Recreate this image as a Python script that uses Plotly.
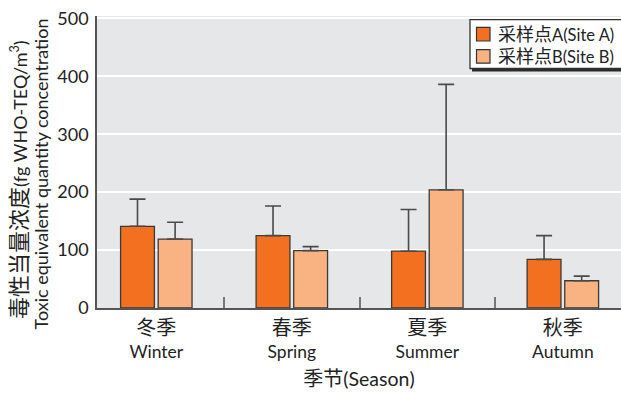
import plotly.graph_objects as go

# Seasonal toxic equivalent concentrations at two sampling sites
season_cn = ["冬季", "春季", "夏季", "秋季"]
season_en = ["Winter", "Spring", "Summer", "Autumn"]
site_a_mean = [141, 125, 98, 84]
site_a_upper = [47, 51, 72, 41]     # upper error (mean + err = top of whisker)
site_b_mean = [119, 99, 204, 47]
site_b_upper = [29, 7, 182, 8]

series_cn = ["采样点A", "采样点B"]
series_en = ["(Site A)", "(Site B)"]
colors = ["#F37021", "#F9B383"]
y_ticks = [0, 100, 200, 300, 400, 500]
y_title_cn = "毒性当量浓度"
y_title_unit = "(fg WHO-TEQ/m<sup>3</sup>)"
y_title_en = "Toxic equivalent quantity concentration"

FONT = "Lato, Noto Sans CJK SC, sans-serif"
TXT = "#222"


def cjk(s, size):
    return f"<span style='font-size:{size}px'>{s}</span>"


seasons = [f"{cjk(c, 20)}<br>{e}" for c, e in zip(season_cn, season_en)]

fig = go.Figure()
for cn, en, means, errs, col in zip(series_cn, series_en,
                                    [site_a_mean, site_b_mean],
                                    [site_a_upper, site_b_upper], colors):
    fig.add_trace(go.Bar(
        x=seasons, y=means, name=cn + en, showlegend=False,
        marker=dict(color=col, line=dict(color="#3a3a3a", width=1.3)),
        error_y=dict(type="data", array=errs, arrayminus=[0] * len(errs),
                     symmetric=False, color="#4a4a4a", thickness=1.6, width=8),
    ))

W, H = 621, 395
ml, mr, mt, mb = 97, 0, 16, 87
pw, ph = W - ml - mr, H - mt - mb


def px_x(px):
    return (px - ml) / pw


def px_y(py):
    return (H - mb - py) / ph


# Legend box drawn as layout decoration (box, drop shadow, swatches, labels)
shapes = [
    dict(type="rect", xref="paper", yref="paper", layer="above",
         x0=px_x(472), x1=px_x(640), y0=px_y(71.5), y1=px_y(22),
         fillcolor="#2a2a2a", line=dict(width=0)),
    dict(type="rect", xref="paper", yref="paper", layer="above",
         x0=px_x(470), x1=px_x(640), y0=px_y(68.5), y1=px_y(19.7),
         fillcolor="white", line=dict(color="#333", width=1.3)),
]
annotations = []
row_centers = [34.2, 56.4]
for i, (cn, en, col) in enumerate(zip(series_cn, series_en, colors)):
    yc = row_centers[i]
    shapes.append(dict(type="rect", xref="paper", yref="paper", layer="above",
                       x0=px_x(476.5), x1=px_x(490), y0=px_y(yc + 6.8), y1=px_y(yc - 6.8),
                       fillcolor=col, line=dict(color="#333", width=1.2)))
    annotations.append(dict(xref="paper", yref="paper", x=px_x(495.5), y=px_y(yc),
                            xanchor="left", yanchor="middle", showarrow=False,
                            text=cjk(cn[:3], 18) + cn[3:] + en,
                            font=dict(family=FONT, size=16.5, color=TXT)))

# Two-line rotated y-axis title
annotations.append(dict(xref="paper", yref="paper", x=px_x(18), y=px_y(180),
                        xanchor="center", yanchor="middle", showarrow=False,
                        textangle=-90, text=cjk(y_title_cn, 22) + y_title_unit,
                        font=dict(family=FONT, size=18, color=TXT)))
annotations.append(dict(xref="paper", yref="paper", x=px_x(40.5), y=px_y(174),
                        xanchor="center", yanchor="middle", showarrow=False,
                        textangle=-90, text=y_title_en,
                        font=dict(family=FONT, size=18, color=TXT)))

fig.update_layout(
    width=W, height=H,
    margin=dict(l=ml, r=mr, t=mt, b=mb, autoexpand=False),
    paper_bgcolor="white",
    plot_bgcolor="#E6E7E9",
    barmode="group",
    bargap=0.445,
    bargroupgap=0.1,
    font=dict(family=FONT, size=17, color=TXT),
    showlegend=False,
    xaxis=dict(
        type="category",
        range=[-0.4376, 3.429],
        showline=True, linecolor="#555", linewidth=1.6,
        ticks="inside", tickson="boundaries", ticklen=11,
        tickcolor="#777", tickwidth=1.5,
        showgrid=False,
        ticklabelstandoff=4,
        tickfont=dict(family=FONT, size=17.5, color=TXT),
        title=dict(text=cjk("季节", 20) + "(Season)", standoff=12,
                   font=dict(family=FONT, size=19.5, color=TXT)),
    ),
    yaxis=dict(
        range=[0, 504],
        tickvals=y_ticks,
        showline=True, linecolor="#555", linewidth=1.6,
        showgrid=True, gridcolor="white", gridwidth=1.5,
        zeroline=False,
        ticks="", ticklabelstandoff=3,
        tickfont=dict(family=FONT, size=18, color=TXT),
    ),
    shapes=shapes,
    annotations=annotations,
)

fig.write_html("out.html")
